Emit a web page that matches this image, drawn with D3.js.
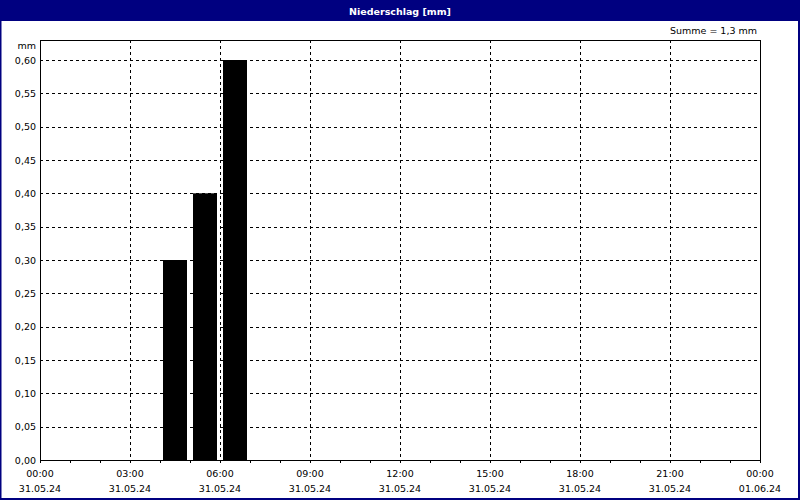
<!DOCTYPE html>
<html>
<head>
<meta charset="utf-8">
<script src="https://d3js.org/d3.v7.min.js"></script>
<style>
  body { margin: 0; background: #fff; }
  svg text { font-family: "DejaVu Sans", Verdana, sans-serif; fill: #000; }
</style>
</head>
<body>
<div id="chart"></div>
<script>
// hourly precipitation, bar covers the hour starting at `hour`
var hours = [4, 5, 6];
var values = [0.30, 0.40, 0.60];
var xTickHours = [0, 3, 6, 9, 12, 15, 18, 21, 24];
var xTimeLabels = ["00:00", "03:00", "06:00", "09:00", "12:00", "15:00", "18:00", "21:00", "00:00"];
var xDateLabels = ["31.05.24", "31.05.24", "31.05.24", "31.05.24", "31.05.24", "31.05.24", "31.05.24", "31.05.24", "01.06.24"];
var yTicks = [0, 0.05, 0.10, 0.15, 0.20, 0.25, 0.30, 0.35, 0.40, 0.45, 0.50, 0.55, 0.60];

var W = 800, H = 500;
var margin = {top: 40, right: 40, bottom: 40, left: 40};
var width = W - margin.left - margin.right,
    height = H - margin.top - margin.bottom;

var svg = d3.select("#chart").append("svg")
    .attr("width", W).attr("height", H);

// frame + title bar
svg.append("rect").attr("x", 0.5).attr("y", 0.5).attr("width", W - 1.5).attr("height", H - 1.5)
    .attr("fill", "#fff").attr("stroke", "#000080").attr("stroke-width", 2);
svg.append("rect").attr("x", 0).attr("y", 0).attr("width", W).attr("height", 21).attr("fill", "#000080");
svg.append("text").attr("x", W / 2).attr("y", 14.5).attr("text-anchor", "middle")
    .style("fill", "#fff").style("font-weight", "bold").style("font-size", "9.5px")
    .text("Niederschlag [mm]");

var g = svg.append("g").attr("transform", "translate(" + margin.left + "," + margin.top + ")");

var x = d3.scaleLinear().domain([0, 24]).range([0, width]);
var y = d3.scaleLinear().domain([0, 0.63]).range([height, 0]);

// grid
g.append("g").selectAll("line").data(yTicks.slice(1)).enter().append("line")
    .attr("x1", 0).attr("x2", width)
    .attr("y1", function (d) { return Math.round(y(d)) + 0.5; })
    .attr("y2", function (d) { return Math.round(y(d)) + 0.5; })
    .attr("stroke", "#000").attr("stroke-dasharray", "3,3").attr("shape-rendering", "crispEdges");
g.append("g").selectAll("line").data(xTickHours.slice(1, -1)).enter().append("line")
    .attr("y1", 0).attr("y2", height)
    .attr("x1", function (d) { return Math.round(x(d)) + 0.5; })
    .attr("x2", function (d) { return Math.round(x(d)) + 0.5; })
    .attr("stroke", "#000").attr("stroke-dasharray", "3,3").attr("shape-rendering", "crispEdges");

// bars
g.append("g").selectAll("rect").data(values).enter().append("rect")
    .attr("x", function (d, i) { return x(hours[i] + 0.1); })
    .attr("width", x(0.8) - x(0))
    .attr("y", function (d) { return y(d); })
    .attr("height", function (d) { return height - y(d); })
    .attr("fill", "#000");

// plot border
g.append("rect").attr("x", 0.5).attr("y", 0.5).attr("width", width).attr("height", height)
    .attr("fill", "none").attr("stroke", "#000").attr("shape-rendering", "crispEdges");

// hourly ticks under x axis
g.append("g").selectAll("line").data(d3.range(0, 25)).enter().append("line")
    .attr("x1", function (d) { return Math.round(x(d)) + 0.5; })
    .attr("x2", function (d) { return Math.round(x(d)) + 0.5; })
    .attr("y1", height).attr("y2", height + 3)
    .attr("stroke", "#000").attr("shape-rendering", "crispEdges");

// y labels
g.append("g").selectAll("text").data(yTicks).enter().append("text")
    .attr("x", -4).attr("y", function (d) { return y(d) + 3.5; })
    .attr("text-anchor", "end").style("font-size", "9.5px")
    .text(function (d) { return d3.format(".2f")(d).replace(".", ","); });
g.append("text").attr("x", -4).attr("y", 9).attr("text-anchor", "end")
    .style("font-size", "9.5px").text("mm");

// x labels
g.append("g").selectAll("text").data(xTickHours).enter().append("text")
    .attr("x", function (d) { return x(d); }).attr("y", height + 17)
    .attr("text-anchor", "middle").style("font-size", "9.5px")
    .text(function (d, i) { return xTimeLabels[i]; });
g.append("g").selectAll("text").data(xTickHours).enter().append("text")
    .attr("x", function (d) { return x(d); }).attr("y", height + 32)
    .attr("text-anchor", "middle").style("font-size", "9.5px")
    .text(function (d, i) { return xDateLabels[i]; });

svg.append("text").attr("x", 757).attr("y", 34).attr("text-anchor", "end")
    .style("font-size", "9.5px").text("Summe = 1,3 mm");
</script>
</body>
</html>
